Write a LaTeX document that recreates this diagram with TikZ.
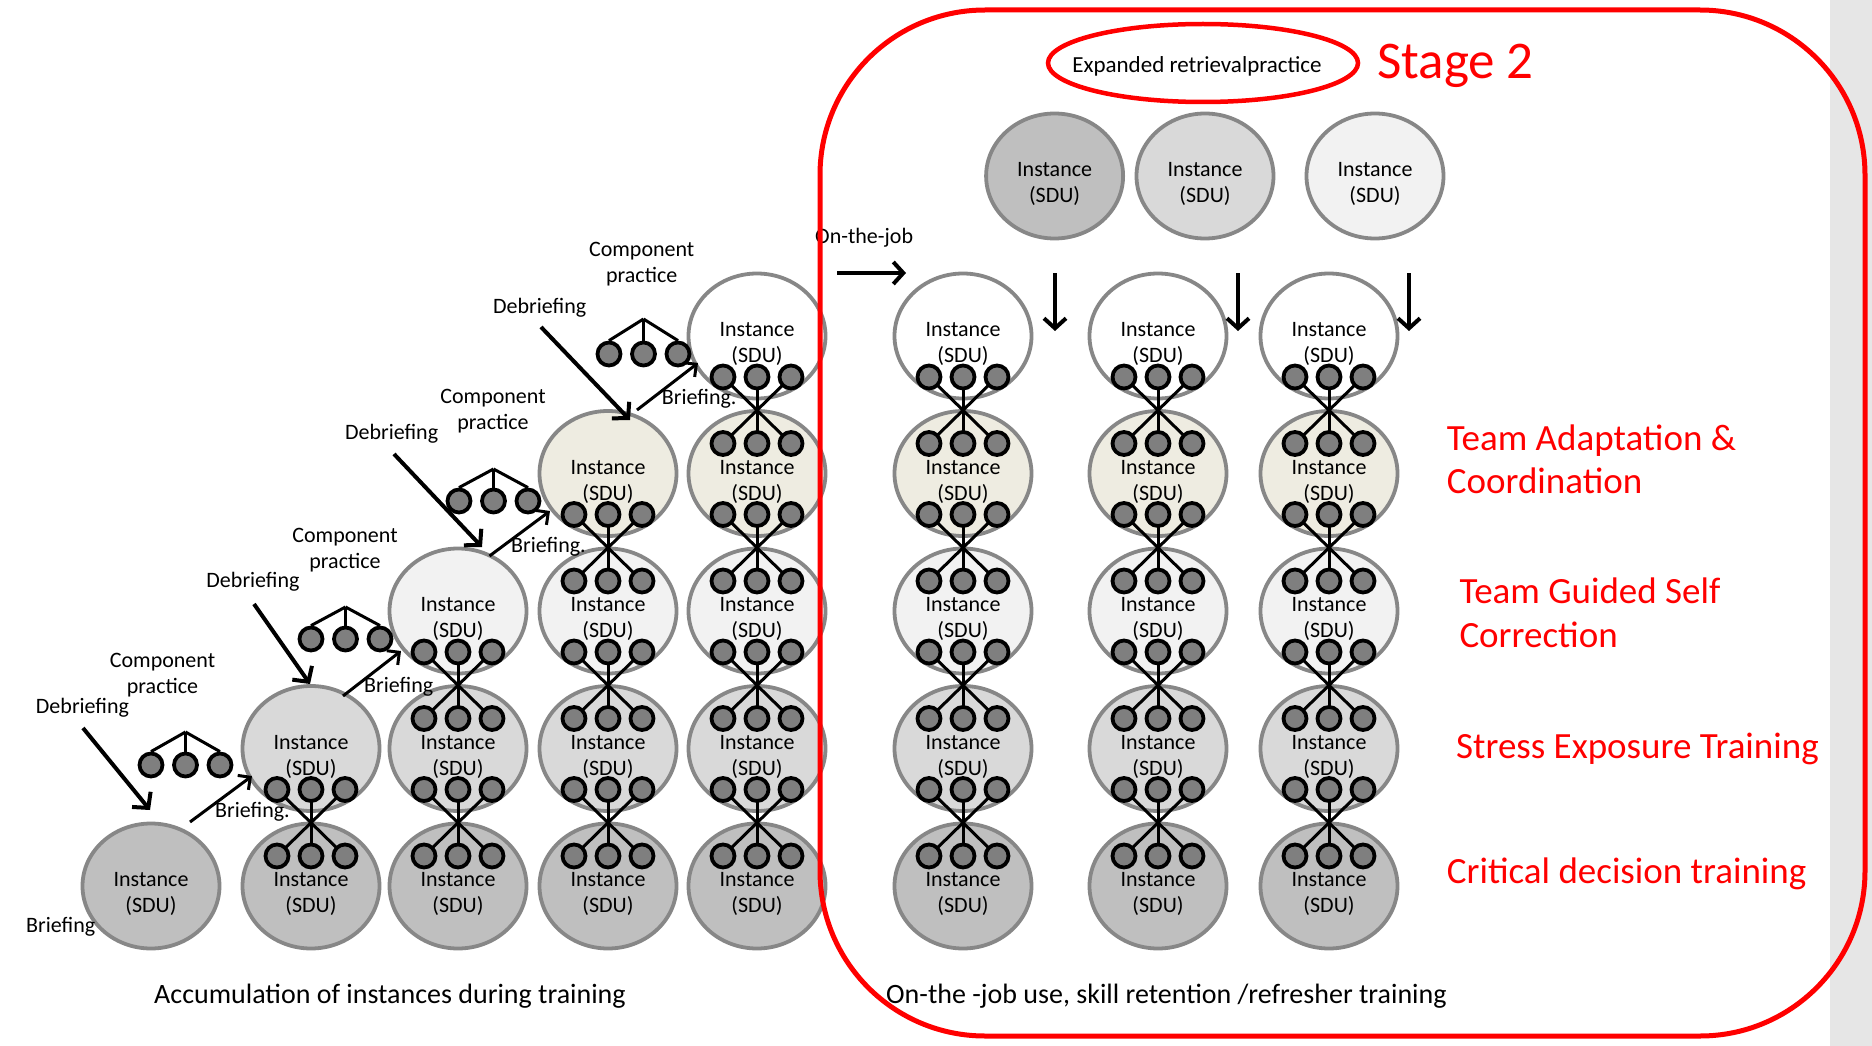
\documentclass[tikz,border=0pt]{standalone}
\usepackage{fontspec}
\setmainfont{Carlito}
\usetikzlibrary{shapes.geometric,arrows.meta}

\pgfdeclarelayer{back}
\pgfdeclarelayer{wires}
\pgfsetlayers{back,wires,main}

\definecolor{rowfill0}{HTML}{BFBFBF}
\definecolor{rowfill1}{HTML}{D9D9D9}
\definecolor{rowfill2}{HTML}{F2F2F2}
\definecolor{rowfill3}{HTML}{EEECE1}
\definecolor{rowfill4}{HTML}{FFFFFF}
\definecolor{rimgray}{HTML}{878787}
\definecolor{dotgray}{HTML}{7F7F7F}
\definecolor{stagered}{HTML}{FF0000}
\definecolor{sidebar}{HTML}{E6E6E6}

\tikzset{
  inst/.style={ellipse, draw=rimgray, line width=3.8pt, minimum width=137pt,
    minimum height=125pt, inner sep=0pt},
  insttxt/.style={font=\fontsize{22}{26}\selectfont, align=center, inner sep=0pt},
  sdot/.style={circle, draw=black, fill=dotgray, line width=3.8pt,
    minimum size=23pt, inner sep=0pt},
  wire/.style={line width=3pt},
  lbl/.style={font=\fontsize{22}{26}\selectfont, inner sep=0pt},
  twoline/.style={lbl, align=center},
  redlbl/.style={font=\fontsize{37}{43}\selectfont, text=stagered, inner sep=0pt,
    anchor=base west},
  caption/.style={font=\fontsize{28}{32}\selectfont, inner sep=0pt, anchor=base west},
  debarrow/.style={line width=4pt, -{Straight Barb[length=11pt, width=24pt]}},
  briarrow/.style={line width=3pt, -{Straight Barb[length=9pt, width=18pt]}},
  jobarrow/.style={line width=4pt, -{Straight Barb[length=10pt, width=22pt]}},
}

% one instance: grey ellipse with its two-line caption
\newcommand\inst[4]{%
  \begin{pgfonlayer}{back}
    \node[inst, fill=#4] (#1) at ({#2},{#3}) {};
    \node[insttxt] (#1-t) at ({#2},{#3+8}) {Instance\\(SDU)};
  \end{pgfonlayer}}

% a column of instances, neighbours joined by crossed links
\newcommand\stack[3]{%
  \foreach \r in {1,...,#3}{%
    \pgfmathtruncatemacro\k{\r-1}%
    \inst{#1-\k}{#2}{886-137.5*\k}{rowfill\k}%
  }%
  \ifnum#3>1
  \foreach \r in {2,...,#3}{%
    \pgfmathtruncatemacro\upi{\r-1}%
    \pgfmathtruncatemacro\loi{\r-2}%
    \foreach \i/\dx in {1/-34,2/0,3/34}{%
      \node[sdot] (#1-\upi-b\i) at ({#2+(\dx)},{886-137.5*\upi+41}) {};
      \node[sdot] (#1-\loi-t\i) at ({#2+(\dx)},{886-137.5*\loi-30}) {};
    }%
    \begin{pgfonlayer}{wires}
      \draw[wire] (#1-\upi-b1.center) -- (#1-\loi-t3.center);
      \draw[wire] (#1-\upi-b2.center) -- (#1-\loi-t2.center);
      \draw[wire] (#1-\upi-b3.center) -- (#1-\loi-t1.center);
    \end{pgfonlayer}
  }%
  \fi}

% three components hanging from one apex
\newcommand\cluster[4]{%
  \coordinate (#1-a) at ({#2+34.5},{#4});
  \foreach \i/\dx in {1/0,2/34.5,3/69}{%
    \node[sdot] (#1-\i) at ({#2+\dx},{#3}) {};
  }%
  \begin{pgfonlayer}{wires}
    \foreach \i in {1,2,3}{\draw[wire] (#1-a) -- (#1-\i.north);}
  \end{pgfonlayer}}

\begin{document}
\begin{tikzpicture}[x=1pt,y=-1pt]
\useasboundingbox (0,0) rectangle (1872,1046);
\begin{pgfonlayer}{back}
  \fill[white] (0,0) rectangle (1872,1046);
  \fill[sidebar] (1830,0) rectangle (1872,1046);
\end{pgfonlayer}

% training columns
\stack{c0}{151}{1}
\stack{c1}{311}{2}
\stack{c2}{458}{3}
\stack{c3}{608}{4}
\stack{c4}{757}{5}
% on-the-job columns
\stack{r1}{963}{5}
\stack{r2}{1158}{5}
\stack{r3}{1329}{5}

% retrieval instances
\inst{s1}{1054.6}{176}{rowfill0}
\inst{s2}{1205}{176}{rowfill1}
\inst{s3}{1375}{176}{rowfill2}

% component practice clusters
\cluster{k1}{151}{765}{732}
\cluster{k2}{311}{639}{607}
\cluster{k3}{459}{501}{469}
\cluster{k4}{609}{354}{319}

\node[twoline] (cp1) at (162.5,675) {Component\\practice};
\node[twoline] (cp2) at (345,550) {Component\\practice};
\node[twoline] (cp3) at (493,411) {Component\\practice};
\node[twoline] (cp4) at (641.7,264) {Component\\practice};

% debriefing
\node[lbl, anchor=base] (db1) at (82.5,713) {Debriefing};
\node[lbl, anchor=base] (db2) at (253,587) {Debriefing};
\node[lbl, anchor=base] (db3) at (391.6,439) {Debriefing};
\node[lbl, anchor=base] (db4) at (539.7,313) {Debriefing};
\coordinate (db1s) at (83,728);   \coordinate (db1e) at (150,810);
\coordinate (db2s) at (254,604);  \coordinate (db2e) at (310,684);
\coordinate (db3s) at (394,454);  \coordinate (db3e) at (482,547);
\coordinate (db4s) at (541,327);  \coordinate (db4e) at (630,420);
\draw[debarrow] (db1s) -- (db1e);
\draw[debarrow] (db2s) -- (db2e);
\draw[debarrow] (db3s) -- (db3e);
\draw[debarrow] (db4s) -- (db4e);

% briefing
\coordinate (br1s) at (190,822);   \coordinate (br1e) at (252,776);
\coordinate (br2s) at (343,696);   \coordinate (br2e) at (401,651);
\coordinate (br3s) at (489.5,556); \coordinate (br3e) at (550,511);
\coordinate (br4s) at (637,410);   \coordinate (br4e) at (698,363);
\draw[briarrow] (br1s) -- (br1e);
\draw[briarrow] (br2s) -- (br2e);
\draw[briarrow] (br3s) -- (br3e);
\draw[briarrow] (br4s) -- (br4e);
\node[lbl, anchor=base west] (bl0) at (26,932) {Briefing};
\node[lbl, anchor=base west] (bl1) at (215,817) {Briefing.};
\node[lbl, anchor=base west] (bl2) at (364,692) {Briefing};
\node[lbl, anchor=base west] (bl3) at (511,552.6) {Briefing.};
\node[lbl, anchor=base west] (bl4) at (661.7,404) {Briefing.};

% on-the-job entry and retrieval arrows
\node[lbl, anchor=base west] (onjob) at (815,243) {On-the-job};
\coordinate (oj-s) at (837,273);  \coordinate (oj-e) at (906,273);
\draw[jobarrow] (oj-s) -- (oj-e);
\coordinate (dn1s) at (1055,273); \coordinate (dn1e) at (1055,331);
\coordinate (dn2s) at (1238,273); \coordinate (dn2e) at (1238,331);
\coordinate (dn3s) at (1409,273); \coordinate (dn3e) at (1409,331);
\draw[jobarrow] (dn1s) -- (dn1e);
\draw[jobarrow] (dn2s) -- (dn2e);
\draw[jobarrow] (dn3s) -- (dn3e);

% stage 2 frame
\draw[stagered, line width=5pt, rounded corners=165pt] (820,10) rectangle (1865,1036);
\node[ellipse, draw=stagered, line width=4.5pt, minimum width=310pt,
  minimum height=78pt, inner sep=0pt] (erp) at (1203,63) {};
\node[lbl, anchor=base, font=\fontsize{23}{27}\selectfont] (erp-t) at (1197,72.7)
  {Expanded retrievalpractice};
\node[anchor=base west, inner sep=0pt, font=\fontsize{53}{62}\selectfont,
  text=stagered] (stage) at (1377,79) {Stage 2};

% training types
\node[redlbl] (tac1) at (1446.7,450) {Team Adaptation \&};
\node[redlbl] (tac2) at (1446.7,493) {Coordination};
\node[redlbl] (tgs1) at (1459.3,603) {Team Guided Self};
\node[redlbl] (tgs2) at (1459.3,647) {Correction};
\node[redlbl] (set) at (1456,758) {Stress Exposure Training};
\node[redlbl] (cdt) at (1446.7,883.8) {Critical decision training};

% captions
\node[caption] (cap-l) at (154,1003) {Accumulation of instances during training};
\node[caption] (cap-r) at (886,1003) {On-the -job use, skill retention /refresher training};
\end{tikzpicture}
\end{document}
